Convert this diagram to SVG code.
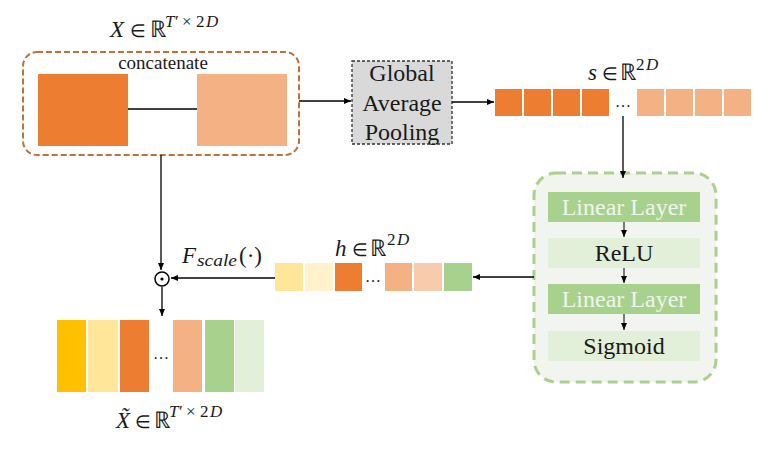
<svg xmlns="http://www.w3.org/2000/svg" width="775" height="466" viewBox="0 0 775 466" font-family="'Liberation Serif', 'Times New Roman', serif">
<style>
text{font-family:'Liberation Serif','Times New Roman',serif;fill:#1a1a1a}
.math{font-size:23px}
.sup{font-size:17px}
.el{font-size:18px}
.it{font-style:italic}
.ln{stroke:#000;stroke-width:1.3;fill:none}
.thin{stroke:#000;stroke-width:1;fill:none}
.lbl{font-size:24px}
</style>
<defs>
<marker id="ah" markerWidth="8" markerHeight="8" refX="7" refY="4" orient="auto" markerUnits="userSpaceOnUse">
<path d="M0,1 L7,4 L0,7 Z" fill="#000"/>
</marker>
</defs>
<rect width="775" height="466" fill="#fff"/>

<g id="input">
<text class="math" y="37"><tspan class="it" x="110">X</tspan><tspan class="el" x="130">∈</tspan><tspan x="150">ℝ</tspan><tspan class="it sup" x="165" y="27">T</tspan><tspan class="sup" x="175" y="27">′</tspan><tspan class="sup" x="182" y="27">×</tspan><tspan class="sup" x="196" y="27">2</tspan><tspan class="it sup" x="206" y="27">D</tspan></text>
<rect x="23" y="52" width="276" height="103" rx="14" fill="none" stroke="#C0703A" stroke-width="2" stroke-dasharray="6,3"/>
<text x="163" y="69" font-size="19" text-anchor="middle">concatenate</text>
<rect x="38" y="74" width="90" height="72" fill="#ED7D31"/>
<rect x="197" y="74" width="90" height="72" fill="#F4B183"/>
<line x1="128" y1="109" x2="197" y2="109" stroke="#000" stroke-width="1.3"/>
</g>

<g id="gap">
<rect x="352" y="61" width="100" height="83" fill="#D9D9D9" stroke="#333" stroke-width="1.3" stroke-dasharray="3,2"/>
<text class="lbl" x="402" y="81" text-anchor="middle">Global</text>
<text class="lbl" x="402" y="111" text-anchor="middle">Average</text>
<text class="lbl" x="402" y="140" text-anchor="middle">Pooling</text>
</g>

<g id="s-vector">
<text class="math" y="80"><tspan class="it" x="588">s</tspan><tspan class="el" x="602">∈</tspan><tspan x="620">ℝ</tspan><tspan class="sup" x="636" y="70">2</tspan><tspan class="it sup" x="646" y="70">D</tspan></text>
<rect x="495" y="89" width="27" height="27" fill="#ED7D31"/>
<rect x="524" y="89" width="27" height="27" fill="#ED7D31"/>
<rect x="553" y="89" width="27" height="27" fill="#ED7D31"/>
<rect x="582" y="89" width="27" height="27" fill="#ED7D31"/>
<text x="623" y="107" font-size="16" text-anchor="middle">…</text>
<rect x="637" y="89" width="27" height="27" fill="#F4B183"/>
<rect x="666" y="89" width="27" height="27" fill="#F4B183"/>
<rect x="695" y="89" width="27" height="27" fill="#F4B183"/>
<rect x="724" y="89" width="27" height="27" fill="#F4B183"/>
</g>

<g id="excitation">
<rect x="534" y="173" width="182" height="209" rx="22" fill="#F2F4F0" stroke="#A9D18E" stroke-width="3" stroke-dasharray="10,6"/>
<rect x="548" y="192" width="152" height="30" fill="#A9D18E"/>
<text class="lbl" x="624" y="215" text-anchor="middle" style="fill:#EEF5EA">Linear Layer</text>
<rect x="548" y="238" width="152" height="30" fill="#E2EFD9"/>
<text class="lbl" x="624" y="261" text-anchor="middle">ReLU</text>
<rect x="548" y="284" width="152" height="30" fill="#A9D18E"/>
<text class="lbl" x="624" y="307" text-anchor="middle" style="fill:#EEF5EA">Linear Layer</text>
<rect x="548" y="331" width="152" height="30" fill="#E2EFD9"/>
<text class="lbl" x="624" y="354" text-anchor="middle">Sigmoid</text>
</g>

<g id="h-vector">
<text class="math" y="256"><tspan class="it" x="335">h</tspan><tspan class="el" x="352">∈</tspan><tspan x="370">ℝ</tspan><tspan class="sup" x="387" y="245">2</tspan><tspan class="it sup" x="397" y="245">D</tspan></text>
<rect x="275" y="263" width="28" height="28" fill="#FFE699"/>
<rect x="305" y="263" width="28" height="28" fill="#FFF2CC"/>
<rect x="335" y="263" width="27" height="28" fill="#ED7D31"/>
<text x="373" y="282" font-size="16" text-anchor="middle">…</text>
<rect x="385" y="263" width="27" height="28" fill="#F4B183"/>
<rect x="414" y="263" width="28" height="28" fill="#F8CBAD"/>
<rect x="444" y="263" width="28" height="28" fill="#A9D18E"/>
</g>

<g id="scale-op">
<circle cx="162" cy="279" r="7" fill="none" stroke="#000" stroke-width="1.5"/>
<circle cx="162" cy="279" r="1.6" fill="#000"/>
<text class="math" y="263"><tspan class="it" x="182">F</tspan><tspan class="it sup" x="197" y="266" textLength="40" lengthAdjust="spacingAndGlyphs">scale</tspan><tspan x="239" y="263">(·)</tspan></text>
</g>

<g id="output">
<rect x="57" y="320" width="29" height="72" fill="#FFC000"/>
<rect x="88" y="320" width="30" height="72" fill="#FFE699"/>
<rect x="120" y="320" width="29" height="72" fill="#ED7D31"/>
<text x="161" y="359" font-size="16" text-anchor="middle">…</text>
<rect x="173" y="320" width="29" height="72" fill="#F4B183"/>
<rect x="205" y="320" width="29" height="72" fill="#A9D18E"/>
<rect x="235" y="320" width="29" height="72" fill="#E2EFD9"/>
<text class="math" y="428"><tspan class="it" x="116">X̃</tspan><tspan class="el" x="135">∈</tspan><tspan x="154">ℝ</tspan><tspan class="it sup" x="169" y="417">T</tspan><tspan class="sup" x="179" y="417">′</tspan><tspan class="sup" x="186" y="417">×</tspan><tspan class="sup" x="200" y="417">2</tspan><tspan class="it sup" x="210" y="417">D</tspan></text>
</g>

<g id="connectors">
<line class="ln" x1="299" y1="101" x2="351" y2="101" marker-end="url(#ah)"/>
<line class="ln" x1="452" y1="102" x2="494" y2="102" marker-end="url(#ah)"/>
<line class="ln" x1="623" y1="116" x2="623" y2="178" marker-end="url(#ah)"/>
<line class="thin" x1="624" y1="222" x2="624" y2="237" marker-end="url(#ah)"/>
<line class="thin" x1="624" y1="268" x2="624" y2="283" marker-end="url(#ah)"/>
<line class="thin" x1="624" y1="314" x2="624" y2="330" marker-end="url(#ah)"/>
<line class="ln" x1="534" y1="277" x2="473" y2="277" marker-end="url(#ah)"/>
<line class="ln" x1="275" y1="278" x2="171" y2="278" marker-end="url(#ah)"/>
<line class="ln" x1="161" y1="155" x2="161" y2="270" marker-end="url(#ah)"/>
<line class="ln" x1="162" y1="287" x2="162" y2="316" marker-end="url(#ah)"/>
</g>
</svg>
